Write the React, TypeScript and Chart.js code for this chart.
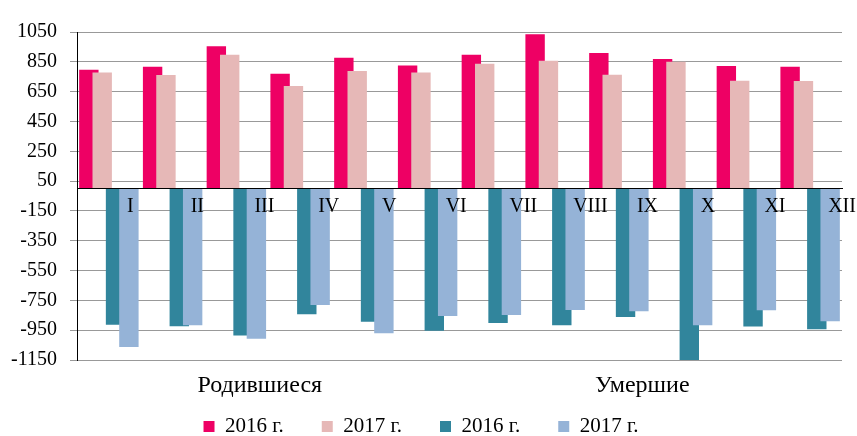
import React, { useEffect, useRef } from 'react';
import { Chart, registerables } from 'chart.js';

Chart.register(...registerables);

const FONT = "'Liberation Serif', 'Times New Roman', serif";

// Categories
const months = ['I', 'II', 'III', 'IV', 'V', 'VI', 'VII', 'VIII', 'IX', 'X', 'XI', 'XII'];
const groupLabels = ['Родившиеся', 'Умершие'];
const seriesLabels = ['2016 г.', '2017 г.', '2016 г.', '2017 г.'];

// Series values
const births2016 = [797, 817, 954, 770, 878, 826, 898, 1035, 909, 869, 822, 817];
const births2017 = [779, 761, 898, 687, 788, 779, 837, 858, 763, 851, 723, 721];
const deaths2016 = [-913, -924, -985, -843, -893, -953, -902, -917, -861, -1160, -926, -944];
const deaths2017 = [-1063, -917, -1007, -781, -971, -855, -848, -814, -823, -917, -816, -890];

// Axis range
const yMin = -1150;
const yMax = 1050;
const yStep = 200;

const colors = ['#EE0064', '#E6B8B7', '#31859C', '#95B3D7'];

// Draw datasets so that later series sit on top of earlier ones (overlapping bars)
const drawInOrder = {
  id: 'drawInOrder',
  beforeDatasetsDraw(chart: any) {
    const { ctx, chartArea } = chart;
    ctx.save();
    ctx.beginPath();
    ctx.rect(chartArea.left, chartArea.top, chartArea.right - chartArea.left, chartArea.bottom - chartArea.top);
    ctx.clip();
    chart.getSortedVisibleDatasetMetas().forEach((m: any) => m.controller.draw());
    ctx.restore();
    return false;
  },
};

export default function App() {
  const ref = useRef<HTMLCanvasElement | null>(null);

  useEffect(() => {
    if (!ref.current) return;
    const allSeries = [births2016, births2017, deaths2016, deaths2017];
    const chart = new Chart(ref.current, {
      type: 'bar',
      data: {
        labels: months,
        datasets: allSeries.map((d, i) => ({
          label: seriesLabels[i],
          data: d,
          backgroundColor: colors[i],
          borderWidth: 0,
          xAxisID: 'x',
          yAxisID: 'y',
        })),
      },
      plugins: [drawInOrder],
      options: {
        responsive: false,
        animation: false,
        events: [],
        layout: { padding: { top: 32, right: 15, bottom: -11, left: 0 } },
        datasets: {
          bar: { categoryPercentage: 0.8376, barPercentage: 1.453 },
        },
        plugins: {
          legend: {
            position: 'bottom',
            labels: {
              boxWidth: 11,
              boxHeight: 11,
              padding: 38,
              color: '#000',
              font: { family: FONT, size: 21 },
            },
          },
          tooltip: { enabled: false },
        },
        scales: {
          x: {
            type: 'category',
            axis: 'x',
            position: { y: 0 },
            offset: true,
            grid: { display: false },
            border: { display: true, color: '#000', width: 1, z: 1 },
            ticks: {
              z: 1,
              align: 'start',
              labelOffset: 18,
              padding: -2,
              color: '#000',
              autoSkip: false,
              maxRotation: 0,
              font: { family: FONT, size: 20 },
            },
          },
          x2: {
            type: 'category',
            axis: 'x',
            position: 'bottom',
            labels: groupLabels,
            offset: true,
            grid: { display: false },
            border: { display: false },
            ticks: {
              mirror: true,
              padding: -40,
              labelOffset: -8.5,
              color: '#000',
              autoSkip: false,
              maxRotation: 0,
              font: { family: FONT, size: 24 },
            },
            afterFit: (s: any) => {
              s.height = 18;
            },
          },
          y: {
            type: 'linear',
            min: yMin,
            max: yMax,
            ticks: {
              stepSize: yStep,
              padding: 13,
              color: '#000',
              font: { family: FONT, size: 20 },
              callback: (v: any) => String(v),
            },
            grid: { color: '#999', tickLength: 7, drawTicks: true },
            border: { display: true, color: '#000', width: 1 },
            afterFit: (s: any) => {
              s.width = 77;
            },
          },
        },
      } as any,
    });
    return () => chart.destroy();
  }, []);

  return (
    <div style={{ position: 'absolute', left: 0, top: 0, width: 857, height: 436, background: '#fff' }}>
      <canvas ref={ref} width={857} height={436} style={{ display: 'block', width: 857, height: 436 }} />
    </div>
  );
}
